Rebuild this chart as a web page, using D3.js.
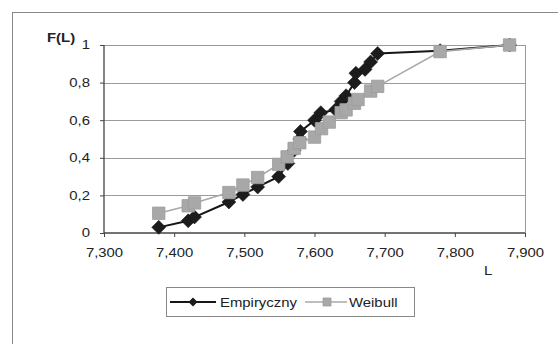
<!DOCTYPE html>
<html>
<head>
<meta charset="utf-8">
<script src="https://cdn.jsdelivr.net/npm/d3@7"></script>
<style>
  html, body { margin: 0; padding: 0; background: #fff; }
  svg { display: block; }
  text { font-family: "Liberation Sans", Arial, sans-serif; fill: #222; }
</style>
</head>
<body>
<svg id="chart" width="558" height="344"></svg>
<script>
// Empirical distribution of L
const empL = [7.378, 7.420, 7.429, 7.478, 7.498, 7.519, 7.549, 7.562, 7.571, 7.579, 7.580,
              7.600, 7.609, 7.630, 7.638, 7.645, 7.657, 7.659, 7.672, 7.680, 7.690, 7.779, 7.878];
const empF = [0.03, 0.065, 0.085, 0.165, 0.205, 0.245, 0.30, 0.37, 0.44, 0.50, 0.54,
              0.60, 0.64, 0.655, 0.70, 0.73, 0.80, 0.85, 0.87, 0.91, 0.955, 0.97, 1.0];

// Fitted Weibull distribution
const weiL = [7.378, 7.420, 7.429, 7.478, 7.498, 7.519, 7.549, 7.561, 7.571, 7.579, 7.600,
              7.610, 7.621, 7.638, 7.645, 7.657, 7.662, 7.680, 7.690, 7.779, 7.878];
const weiF = [0.105, 0.145, 0.16, 0.215, 0.255, 0.295, 0.365, 0.405, 0.45, 0.48, 0.51,
              0.555, 0.59, 0.64, 0.655, 0.69, 0.71, 0.755, 0.78, 0.965, 1.0];

const seriesNames = ["Empiryczny", "Weibull"];

const xTicks = [7.3, 7.4, 7.5, 7.6, 7.7, 7.8, 7.9];
const xTickLabels = ["7,300", "7,400", "7,500", "7,600", "7,700", "7,800", "7,900"];
const yTicks = [0, 0.2, 0.4, 0.6, 0.8, 1];
const yTickLabels = ["0", "0,2", "0,4", "0,6", "0,8", "1"];

const svg = d3.select("#chart");
const STRETCH = 1.24; // wide glyph proportions of the chart font

function widen(sel) {
  sel.each(function () {
    const w = this.getComputedTextLength();
    d3.select(this).attr("textLength", w * STRETCH).attr("lengthAdjust", "spacingAndGlyphs");
  });
}

// outer chart frame
svg.append("rect")
  .attr("x", 12.5).attr("y", 12.5).attr("width", 560).attr("height", 350)
  .attr("fill", "#fff").attr("stroke", "#8a8a8a").attr("stroke-width", 1);

const x = d3.scaleLinear().domain([7.3, 7.9]).range([104, 525]);
const y = d3.scaleLinear().domain([0, 1]).range([233, 45]);

// horizontal gridlines
svg.append("g").selectAll("line")
  .data(yTicks.filter(v => v > 0))
  .join("line")
  .attr("x1", x(7.3)).attr("x2", x(7.9))
  .attr("y1", d => Math.round(y(d)) + 0.5).attr("y2", d => Math.round(y(d)) + 0.5)
  .attr("stroke", "#9a9a9a").attr("stroke-width", 1);

// right edge of plot area
svg.append("line")
  .attr("x1", Math.round(x(7.9)) + 0.5).attr("x2", Math.round(x(7.9)) + 0.5)
  .attr("y1", y(1)).attr("y2", y(0))
  .attr("stroke", "#9a9a9a").attr("stroke-width", 1);

// axes
const yAxis = d3.axisLeft(y)
  .tickValues(yTicks)
  .tickFormat((d, i) => yTickLabels[i])
  .tickSize(4).tickPadding(10);
const gy = svg.append("g").attr("transform", `translate(${x(7.3)},0)`).call(yAxis);

const xAxis = d3.axisBottom(x)
  .tickValues(xTicks)
  .tickFormat((d, i) => xTickLabels[i])
  .tickSize(4).tickPadding(11);
const gx = svg.append("g").attr("transform", `translate(0,${y(0)})`).call(xAxis);

[gx, gy].forEach(g => {
  g.select(".domain").attr("stroke", "#444").attr("stroke-width", 1.3);
  g.selectAll(".tick line").attr("stroke", "#444");
  g.selectAll(".tick text")
    .attr("fill", "#2a2a2a")
    .style("font-family", '"Liberation Sans", Arial, sans-serif')
    .style("font-size", "12px");
});
gy.select(".domain").attr("d", `M-0,${y(0)}V${y(1)}`);
gx.select(".domain").attr("d", `M${x(7.3)},0H${x(7.9)}`);
widen(gx.selectAll(".tick text"));
widen(gy.selectAll(".tick text"));

// axis titles
svg.append("text").attr("x", 47).attr("y", 42)
  .style("font-size", "12px").style("font-weight", "bold").text("F(L)").call(widen);
svg.append("text").attr("x", 484).attr("y", 275)
  .style("font-size", "12px").text("L").call(widen);

const line = d3.line().x(d => x(d[0])).y(d => y(d[1]));
const empData = empL.map((v, i) => [v, empF[i]]);
const weiData = weiL.map((v, i) => [v, weiF[i]]);

const diamond = r => `M0,${-r}L${r},0L0,${r}L${-r},0Z`;
const square = r => `M${-r},${-r}H${r}V${r}H${-r}Z`;

// empirical series
svg.append("path").datum(empData)
  .attr("d", line).attr("fill", "none")
  .attr("stroke", "#161616").attr("stroke-width", 2);
svg.append("g").selectAll("path").data(empData).join("path")
  .attr("transform", d => `translate(${x(d[0])},${y(d[1])})`)
  .attr("d", diamond(7))
  .attr("fill", "#1c1c1c").attr("stroke", "#111").attr("stroke-width", 0.5);

// Weibull series
svg.append("path").datum(weiData)
  .attr("d", line).attr("fill", "none")
  .attr("stroke", "#a9a9a9").attr("stroke-width", 1.6);
svg.append("g").selectAll("path").data(weiData).join("path")
  .attr("transform", d => `translate(${x(d[0])},${y(d[1])})`)
  .attr("d", square(6.2))
  .attr("fill", "#a8a8a8").attr("stroke", "#9c9c9c").attr("stroke-width", 0.8);

// legend
const lg = svg.append("g");
lg.append("rect").attr("x", 166.5).attr("y", 287.5).attr("width", 248).attr("height", 29)
  .attr("fill", "#fff").attr("stroke", "#888").attr("stroke-width", 1);
lg.append("line").attr("x1", 170).attr("x2", 216).attr("y1", 302).attr("y2", 302)
  .attr("stroke", "#161616").attr("stroke-width", 2);
lg.append("path").attr("transform", "translate(193,302)").attr("d", diamond(4.5))
  .attr("fill", "#1c1c1c");
lg.append("text").attr("x", 220).attr("y", 306.5).style("font-size", "12px")
  .text(seriesNames[0]).call(widen);
lg.append("line").attr("x1", 305).attr("x2", 347).attr("y1", 302).attr("y2", 302)
  .attr("stroke", "#a9a9a9").attr("stroke-width", 1.6);
lg.append("path").attr("transform", "translate(327,302)").attr("d", square(4))
  .attr("fill", "#a8a8a8").attr("stroke", "#9c9c9c").attr("stroke-width", 0.8);
lg.append("text").attr("x", 349).attr("y", 306.5).style("font-size", "12px")
  .text(seriesNames[1]).call(widen);
</script>
</body>
</html>
